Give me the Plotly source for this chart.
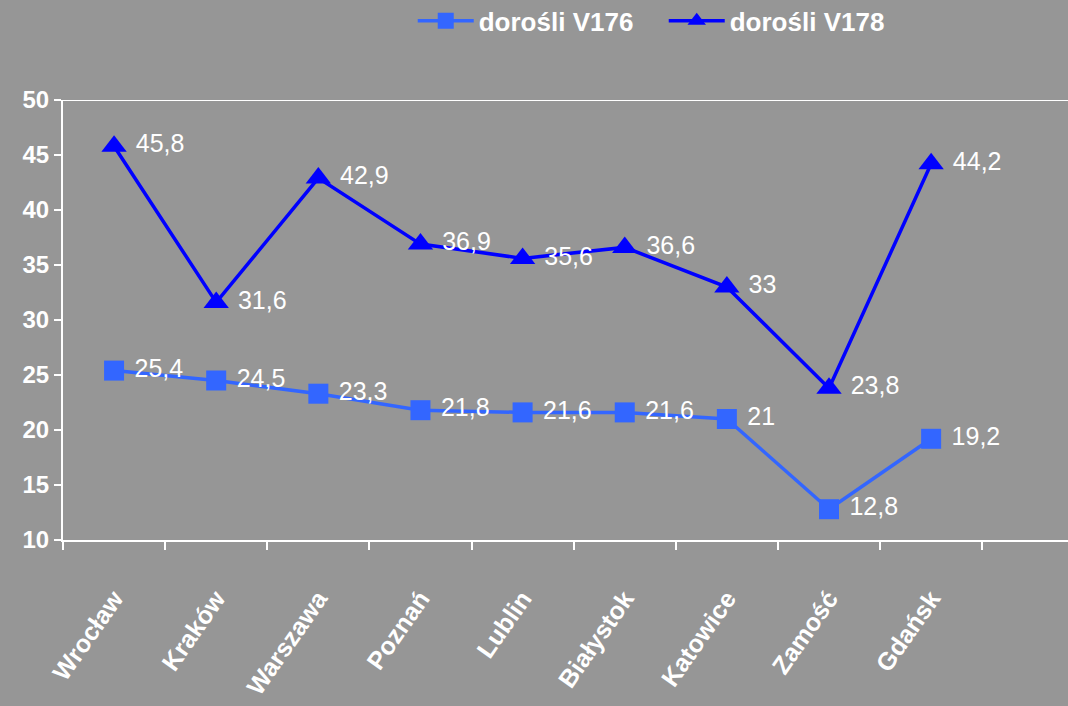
import plotly.graph_objects as go

miasta = ["Wrocław", "Kraków", "Warszawa", "Poznań", "Lublin",
          "Białystok", "Katowice", "Zamość", "Gdańsk"]
v176 = [25.4, 24.5, 23.3, 21.8, 21.6, 21.6, 21, 12.8, 19.2]
v178 = [45.8, 31.6, 42.9, 36.9, 35.6, 36.6, 33, 23.8, 44.2]


def etykiety(vals):
    # przecinek dziesietny + odstep od markera
    return [" " + str(v).replace(".", ",") for v in vals]


TLO = "#969696"
fig = go.Figure()
fig.add_trace(go.Scatter(
    x=miasta, y=v176, name="dorośli V176",
    mode="lines+markers+text",
    line=dict(color="#3366FF", width=3.5),
    marker=dict(symbol="square", size=20, color="#3366FF"),
    text=etykiety(v176), textposition="middle right",
    textfont=dict(family="Liberation Sans", size=25, color="white"),
))
fig.add_trace(go.Scatter(
    x=miasta, y=v178, name="dorośli V178",
    mode="lines+markers+text",
    line=dict(color="#0000FF", width=3.5),
    marker=dict(symbol="triangle-up", size=22, color="#0000FF"),
    text=etykiety(v178), textposition="middle right",
    textfont=dict(family="Liberation Sans", size=25, color="white"),
))

# gorna linia przy 50
fig.add_shape(type="line", xref="paper", x0=0, x1=1, yref="y", y0=50, y1=50,
              line=dict(color="white", width=2), layer="below")

fig.update_layout(
    width=1068, height=706,
    paper_bgcolor=TLO, plot_bgcolor=TLO,
    margin=dict(l=63, r=0, t=100, b=166, autoexpand=False),
    font=dict(family="Liberation Sans", color="white"),
    showlegend=True,
    legend=dict(
        orientation="h", x=0.348, xanchor="left", y=1.18, yanchor="middle",
        font=dict(size=26, color="white", weight="bold"),
        bgcolor="rgba(0,0,0,0)", itemwidth=56,
        entrywidth=180, entrywidthmode="pixels",
    ),
    xaxis=dict(
        type="category", range=[-0.5, 9.34], tickson="boundaries",
        showgrid=False, zeroline=False, showline=True,
        linecolor="white", linewidth=2,
        ticks="outside", ticklen=8, tickcolor="white", tickwidth=2,
        tickangle=-55, ticklabelstandoff=32,
        tickfont=dict(size=25, color="white", weight="bold"),
    ),
    yaxis=dict(
        range=[10, 50], dtick=5, showgrid=False, zeroline=False,
        showline=True, linecolor="white", linewidth=2,
        ticks="outside", ticklen=7, tickcolor="white", tickwidth=2,
        tickfont=dict(size=24, color="white", weight="bold"),
    ),
)

fig.write_html("out.html", config={"displayModeBar": False},
               post_script="document.body.style.margin='0';")
